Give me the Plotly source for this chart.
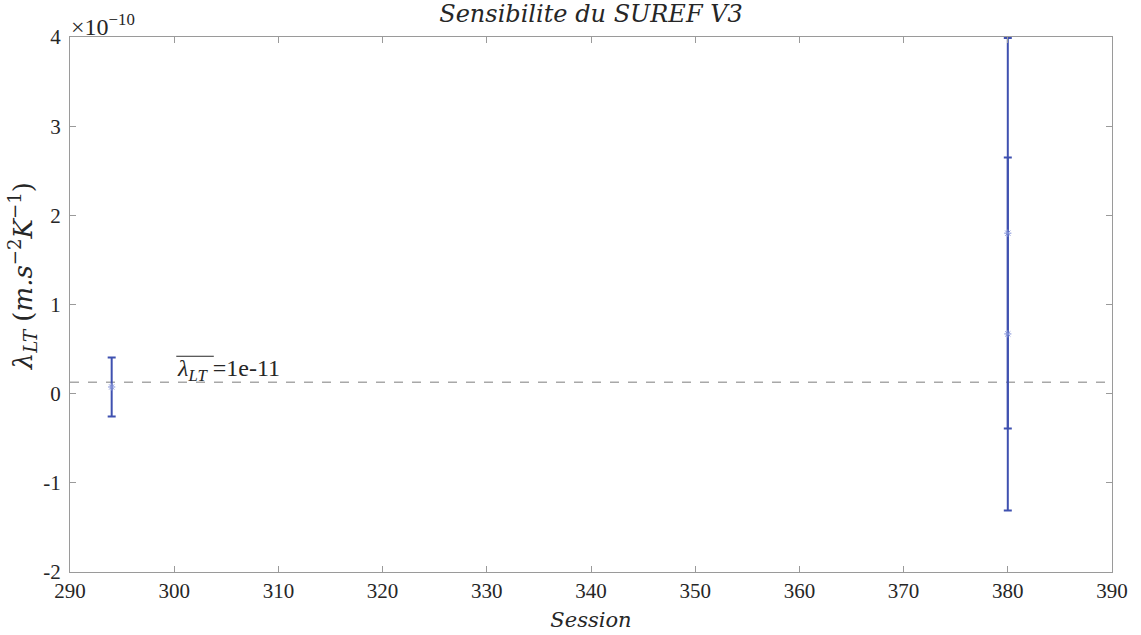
import plotly.graph_objects as go

# Data (values in units of 1e-10 m.s^-2.K^-1)
sessions = [294, 380, 380]
lambda_lt = [0.075, 1.80, 0.67]
lambda_err = [0.33, 2.19, 1.98]
mean_lambda = 0.128  # 1e-10 units (label shows 1e-11)
mean_label = "1e-11"

x_ticks = [290, 300, 310, 320, 330, 340, 350, 360, 370, 380, 390]
y_ticks = [-2, -1, 0, 1, 2, 3, 4]
y_ticktext = ["-2", "-1", "0", "1", "2", "3", "4"]

FONT = "Liberation Serif"
MATH = "DejaVu Serif"
TXT = "#262626"
bar_color = "#3f51b0"
marker_color = "#7f8fd8"

fig = go.Figure()
fig.add_trace(go.Scatter(
    x=sessions, y=lambda_lt, mode="markers",
    marker=dict(symbol="asterisk-open", size=6, color=marker_color,
                line=dict(color=marker_color, width=1)),
    error_y=dict(type="data", array=lambda_err, visible=True,
                 color=bar_color, thickness=2, width=4),
    showlegend=False,
))

fig.add_shape(type="line", xref="paper", x0=0, x1=1, yref="y",
              y0=mean_lambda, y1=mean_lambda,
              line=dict(color="#a8a8a8", width=1.3, dash="dash"), layer="below")

# mean label with overline
fig.add_annotation(
    x=300.1, y=mean_lambda, xref="x", yref="y", xanchor="left", yanchor="bottom",
    text=f"<i>λ</i><sub><i>LT</i></sub> ={mean_label}",
    showarrow=False, font=dict(family=FONT, size=24, color=TXT), yshift=-5,
)
fig.add_shape(type="line", xref="x", x0=300.2, x1=303.8, yref="y",
              ysizemode="pixel", yanchor=mean_lambda, y0=26, y1=26,
              line=dict(color=TXT, width=1))

# exponent label
fig.add_annotation(
    x=0, y=1, xref="paper", yref="paper", xanchor="left", yanchor="bottom",
    text="×10<sup>−10</sup>", showarrow=False,
    font=dict(family=FONT, size=24, color=TXT), xshift=-1, yshift=-5,
)

# y-axis title as rotated annotation (centered like reference)
fig.add_annotation(
    x=0, y=0.553, xref="paper", yref="paper", xanchor="center", yanchor="middle",
    xshift=-48, textangle=-90, showarrow=False,
    text="<i>λ</i><sub><i>LT</i></sub> (<i>m.s</i><sup>−2</sup><i>K</i><sup>−1</sup>)",
    font=dict(family=MATH, size=26, color=TXT),
)

axis_common = dict(
    showline=True, linecolor="#9a9a9a", linewidth=1, mirror="ticks",
    ticks="inside", ticklen=6, tickcolor="#9a9a9a", showgrid=False, zeroline=False,
    automargin=False,
    tickfont=dict(family=FONT, size=21, color=TXT),
)

fig.update_layout(
    width=1141, height=635,
    paper_bgcolor="white", plot_bgcolor="white",
    margin=dict(l=70, r=29, t=37, b=63),
    title=dict(text="<i>Sensibilite du SUREF V3</i>", x=0.5, xanchor="center",
               xref="paper", yref="container", y=0.979, yanchor="middle",
               font=dict(family=MATH, size=24, color=TXT)),
    xaxis=dict(range=[290, 390], tickvals=x_ticks,
               title=dict(text="<i>Session</i>", font=dict(family=MATH, size=21, color=TXT),
                          standoff=10),
               **axis_common),
    yaxis=dict(range=[-2, 4], tickvals=y_ticks, ticktext=y_ticktext,
               ticklabelstandoff=4,
               **axis_common),
)

fig.write_html("out.html", config={"displayModeBar": False},
               post_script="document.body.style.margin='0';")
